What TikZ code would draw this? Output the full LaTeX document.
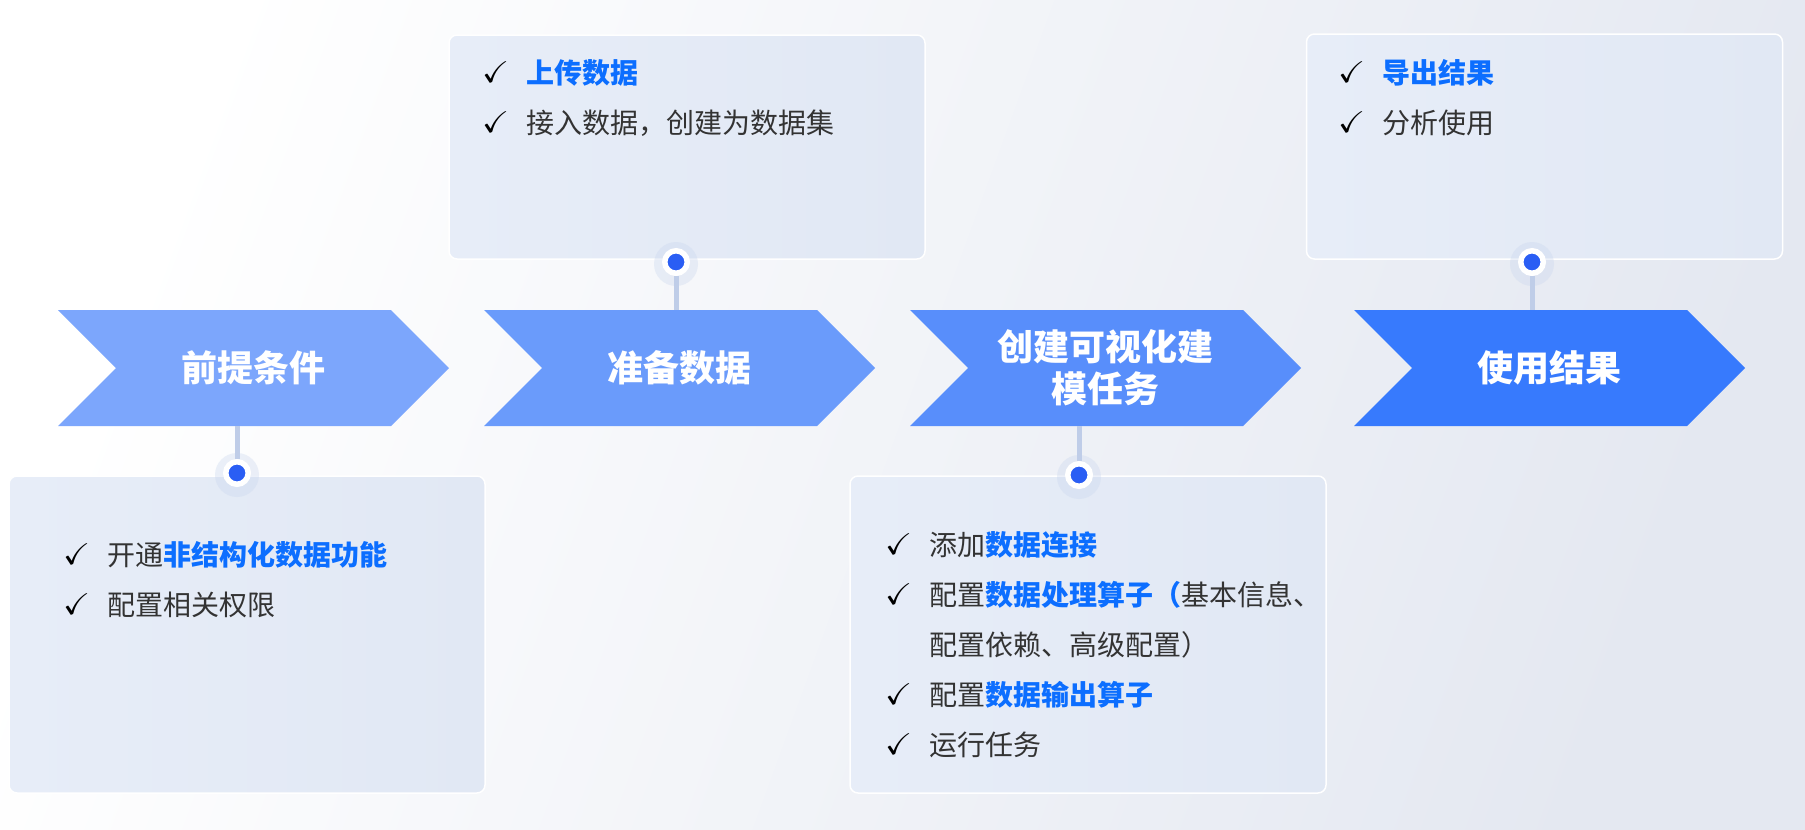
\documentclass[tikz,border=0pt]{standalone}
\usepackage{amssymb}
\usepackage{fontspec}
\usepackage{tikz}
\usetikzlibrary{shapes.symbols}
\newfontfamily\cjk{Noto Sans CJK SC}
\definecolor{bgRight}{HTML}{E4E8F1}
\definecolor{boxLeft}{HTML}{E7EDF8}
\definecolor{boxRight}{HTML}{E1E8F4}
\definecolor{stepOne}{HTML}{7CA6FC}
\definecolor{stepTwo}{HTML}{6A9BFB}
\definecolor{stepThree}{HTML}{588EFB}
\definecolor{stepFour}{HTML}{377AFD}
\definecolor{accentBlue}{HTML}{0C6EFF}
\definecolor{textGray}{HTML}{333333}
\definecolor{dotBlue}{HTML}{2A5EF4}
\definecolor{stemBlue}{HTML}{BFCDE8}
\definecolor{haloBlue}{HTML}{C9D6EE}
\newcommand{\chk}{\makebox[44pt][l]{\color{black}\raisebox{1pt}{\scalebox{1.35}[1.25]{\fontsize{24}{24}\selectfont$\checkmark$}}}}
\newcommand{\blueword}[1]{{\bfseries\color{accentBlue}#1}}

\begin{document}
\begin{tikzpicture}[x=1pt, y=-1pt, every node/.style={font=\cjk},
  stepbox/.style={signal, signal from=west, signal to=east, signal pointer angle=90,
                  minimum width=391pt, minimum height=116pt, inner sep=0pt, text=white,
                  font=\cjk\bfseries\fontsize{36}{42}\selectfont, align=center},
  infobox/.style={rounded corners=8pt, draw=white, line width=1.5pt,
                  left color=boxLeft, right color=boxRight, minimum width=476pt},
  item/.style={anchor=west, inner sep=0pt, text=textGray,
               font=\cjk\fontsize{28}{50}\selectfont, text height=24.6pt, text depth=3.4pt},
  dot/.style={circle, fill=dotBlue, draw=white, line width=5.5pt, minimum size=22.5pt, inner sep=0pt},
  halo/.style={circle, fill=haloBlue, fill opacity=0.35, minimum size=44pt, inner sep=0pt},
  stem/.style={line width=5pt, draw=stemBlue}]
\shade[left color=white, right color=bgRight, shading angle=70] (0,0) rectangle (1805,830);
\useasboundingbox (0,0) rectangle (1805,830);

\node[infobox, minimum height=317pt] (b1) at (247,634.5) {};
\node[infobox, minimum height=224pt] (b2) at (687,147) {};
\node[infobox, minimum height=317pt] (b3) at (1088,634.5) {};
\node[infobox, minimum height=225pt] (b4) at (1544.5,146.5) {};

\node[stepbox, fill=stepOne] (s1) at (253.5,368) {前提条件};
\node[stepbox, fill=stepTwo] (s2) at (679.5,368) {准备数据};
\node[stepbox, fill=stepThree] (s3) at (1105.5,368) {创建可视化建\\模任务};
\node[stepbox, fill=stepFour] (s4) at (1549.5,368) {使用结果};

\foreach \n/\x/\y in {h1/237/475, h2/676/264, h3/1079/477, h4/1532/264}
  \node[halo] (\n) at (\x,\y) {};
\node[dot] (d1) at (237,473) {};
\node[dot] (d2) at (676,262) {};
\node[dot] (d3) at (1079,475) {};
\node[dot] (d4) at (1532,262) {};
\draw[stem] (d1.north) -- (d1 |- s1.south);
\draw[stem] (d2.south) -- (d2 |- s2.north);
\draw[stem] (d3.north) -- (d3 |- s3.south);
\draw[stem] (d4.south) -- (d4 |- s4.north);

\node[item] (t11) at (63,555) {\chk 开通\blueword{非结构化数据功能}};
\node[item] (t12) at (63,605) {\chk 配置相关权限};
\node[item] (t21) at (482,73) {\chk \blueword{上传数据}};
\node[item] (t22) at (482,123) {\chk 接入数据，创建为数据集};
\node[item] (t31) at (885,545) {\chk 添加\blueword{数据连接}};
\node[item] (t32) at (885,595) {\chk 配置\blueword{数据处理算子（}基本信息、};
\node[item] (t33) at (929,645) {配置依赖、高级配置）};
\node[item] (t34) at (885,695) {\chk 配置\blueword{数据输出算子}};
\node[item] (t35) at (885,745) {\chk 运行任务};
\node[item] (t41) at (1338,73) {\chk \blueword{导出结果}};
\node[item] (t42) at (1338,123) {\chk 分析使用};
\end{tikzpicture}
\end{document}
